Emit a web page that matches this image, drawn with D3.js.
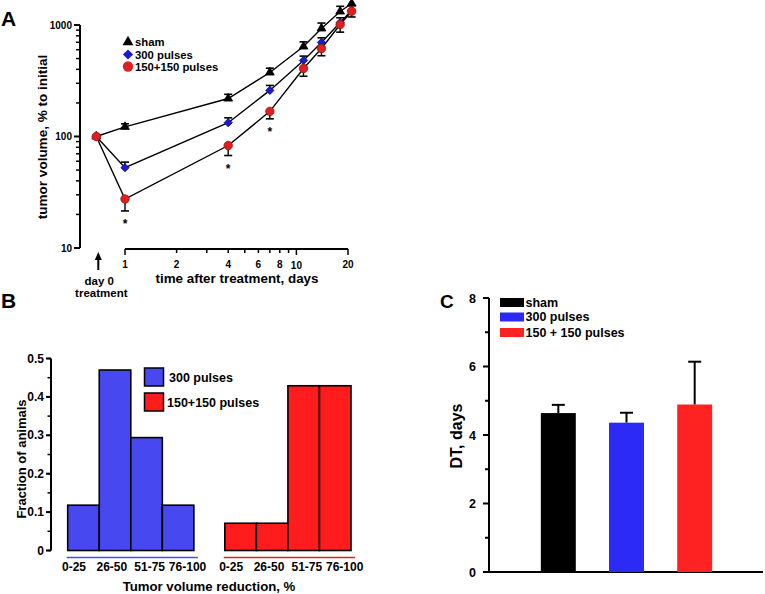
<!DOCTYPE html>
<html><head><meta charset="utf-8">
<script src="https://cdn.jsdelivr.net/npm/d3@7"></script>
<style>
body{margin:0;background:#fff;}
svg{display:block;font-family:"Liberation Sans",Arial,Helvetica,sans-serif;font-weight:bold;}
</style></head><body>
<svg id="chart" width="765" height="594"></svg>
<script>
// ---------- Panel A data ----------
// first position (0.68) stands for "day 0", drawn left of the log axis start
const daysA = [0.68, 1, 4, 7, 11, 14, 18, 21];
const shamA = [100, 122, 219, 375, 641, 931, 1321, 1560];
const shamErrA = [0, 8, 20, 35, 65, 110, 150, 170];
const p300A = [100, 52.5, 133, 259, 481, 697, 1051, 1350];
const p300ErrA = [0, 6.4, 14, 28, 45, 70, 110, 140];
const p150A = [100, 27.5, 83, 168, 407, 615, 1010, 1330];
const p150ErrA = [0, 6, 15.5, 24, 60, 85, 147, 150];
const signifDaysA = [1, 4, 7];
const seriesNamesA = ["sham", "300 pulses", "150+150 pulses"];
const xTickLabelsA = [1, 2, 4, 6, 8, 10, 20];
const yTickLabelsA = [10, 100, 1000];

// ---------- Panel B data ----------
const binsB = ["0-25", "26-50", "51-75", "76-100"];
const groupsB = ["300 pulses", "150+150 pulses"];
const frac300B = [0.118, 0.47, 0.294, 0.118];
const frac150B = [0.071, 0.071, 0.429, 0.429];
const yTicksB = [0, 0.1, 0.2, 0.3, 0.4, 0.5];

// ---------- Panel C data ----------
const groupsC = ["sham", "300 pulses", "150 + 150 pulses"];
const dtC = [4.64, 4.36, 4.89];
const dtErrC = [0.24, 0.29, 1.25];
const yTicksC = [0, 2, 4, 6, 8];

const svg = d3.select("#chart");

// ======================= PANEL A =======================
{
  const g = svg.append("g");
  const x = d3.scaleLog().domain([1, 20]).range([125, 348]);
  const y = d3.scaleLog().domain([10, 1000]).range([248, 25]);
  const axX = 80, axY = 249;

  // y axis
  const yMinor = [];
  [10, 100].forEach(d => { for (let k = 2; k <= 9; k++) yMinor.push(d * k); });
  const yAx = g.append("g").attr("transform", `translate(${axX},0)`);
  yAx.append("line").attr("x1", 0).attr("x2", 0).attr("y1", y(1000)).attr("y2", y(10))
    .attr("stroke", "#000").attr("stroke-width", 2);
  yAx.selectAll(".mn").data(yMinor).join("line")
    .attr("x1", 0).attr("x2", -4).attr("y1", d => y(d)).attr("y2", d => y(d))
    .attr("stroke", "#000").attr("stroke-width", 1.5);
  yAx.selectAll(".mj").data(yTickLabelsA).join("line")
    .attr("x1", 0).attr("x2", -6).attr("y1", d => y(d)).attr("y2", d => y(d))
    .attr("stroke", "#000").attr("stroke-width", 2);
  yAx.selectAll(".lb").data(yTickLabelsA).join("text")
    .attr("x", -8).attr("y", d => y(d) + 3.5).attr("text-anchor", "end")
    .attr("font-size", 10).text(d => d);

  // x axis
  const xAll = d3.range(1, 11).concat([20]);
  const xAx = g.append("g").attr("transform", `translate(0,${axY})`);
  xAx.append("line").attr("x1", x(1)).attr("x2", x(20)).attr("y1", 0).attr("y2", 0)
    .attr("stroke", "#000").attr("stroke-width", 2);
  xAx.selectAll(".t").data(xAll).join("line")
    .attr("x1", d => x(d)).attr("x2", d => x(d)).attr("y1", 0)
    .attr("y2", d => (d === 1 || d === 10 || d === 20) ? 6 : 4)
    .attr("stroke", "#000").attr("stroke-width", 1.5);
  xAx.selectAll(".lb").data(xTickLabelsA).join("text")
    .attr("x", d => x(d)).attr("y", d => d === 10 ? 20 : 19).attr("text-anchor", "middle")
    .attr("font-size", 10).text(d => d);

  g.append("text").attr("x", 237).attr("y", 283).attr("text-anchor", "middle")
    .attr("font-size", 13.4).text("time after treatment, days");
  g.append("text").attr("transform", "translate(47,137) rotate(-90)")
    .attr("text-anchor", "middle").attr("font-size", 13.5).text("tumor volume, % to initial");
  g.append("text").attr("x", 1).attr("y", 26).attr("font-size", 21).text("A");

  // day 0 arrow + label
  const ax0 = x(daysA[0]) + 2;
  g.append("line").attr("x1", ax0).attr("x2", ax0).attr("y1", 258).attr("y2", 270)
    .attr("stroke", "#000").attr("stroke-width", 2);
  g.append("path").attr("d", `M${ax0},252 L${ax0 - 3.5},260 L${ax0 + 3.5},260 Z`).attr("fill", "#000");
  g.append("text").attr("x", ax0 + 1).attr("y", 285).attr("text-anchor", "middle")
    .attr("font-size", 11.5).text("day 0");
  g.append("text").attr("x", ax0 + 3).attr("y", 297).attr("text-anchor", "middle")
    .attr("font-size", 11.5).text("treatment");

  const series = [
    {vals: shamA, err: shamErrA, dir: -1, shape: "tri", fill: "#000", stroke: "#000"},
    {vals: p300A, err: p300ErrA, dir: -1, shape: "dia", fill: "#1a1ad0", stroke: "#10108a"},
    {vals: p150A, err: p150ErrA, dir: 1, shape: "cir", fill: "#e02020", stroke: "#a01010"}
  ];
  const line = d3.line().x((d, i) => x(daysA[i])).y(d => y(d));
  series.forEach(s => {
    g.append("path").attr("d", line(s.vals)).attr("fill", "none")
      .attr("stroke", "#000").attr("stroke-width", 1.4);
  });
  // error bars
  series.forEach(s => {
    s.vals.forEach((v, i) => {
      if (!s.err[i]) return;
      const yv = y(v), ye = y(s.dir < 0 ? v + s.err[i] : v - s.err[i]);
      const xv = x(daysA[i]);
      g.append("line").attr("x1", xv).attr("x2", xv).attr("y1", yv).attr("y2", ye)
        .attr("stroke", "#000").attr("stroke-width", 1.4);
      g.append("line").attr("x1", xv - 4).attr("x2", xv + 4).attr("y1", ye).attr("y2", ye)
        .attr("stroke", "#000").attr("stroke-width", 1.6);
    });
  });
  const sym = {tri: d3.symbolTriangle, dia: d3.symbolSquare, cir: d3.symbolCircle};
  const size = {tri: 34, dia: 34, cir: 56};
  const rot = {tri: 0, dia: 45, cir: 0};
  series.forEach(s => {
    g.selectAll(null).data(s.vals).join("path")
      .attr("transform", (d, i) => `translate(${x(daysA[i])},${y(d)}) rotate(${rot[s.shape]})`)
      .attr("d", d3.symbol(sym[s.shape], size[s.shape]))
      .attr("fill", s.fill).attr("stroke", s.stroke).attr("stroke-width", 0.8);
  });
  // significance asterisks
  signifDaysA.forEach(dd => {
    const i = daysA.indexOf(dd);
    g.append("text").attr("x", x(dd)).attr("y", y(p150A[i] - p150ErrA[i]) + 17)
      .attr("text-anchor", "middle").attr("font-size", 12).text("*");
  });
  // legend
  const legY = [42, 54.5, 66.5];
  series.forEach((s, i) => {
    g.append("path").attr("transform", `translate(128,${legY[i]}) rotate(${rot[s.shape]})`)
      .attr("d", d3.symbol(sym[s.shape], size[s.shape] * 1.5))
      .attr("fill", s.fill).attr("stroke", "none");
    g.append("text").attr("x", 135).attr("y", legY[i] + 4).attr("font-size", 11.3)
      .text(seriesNamesA[i]);
  });
}

// ======================= PANEL B =======================
{
  const g = svg.append("g");
  const y = d3.scaleLinear().domain([0, 0.5]).range([550.5, 358.5]);
  const gx = d3.scaleBand().domain(groupsB).range([67.7, 351]).paddingInner(0.197);
  const bx = d3.scaleBand().domain(binsB).range([0, gx.bandwidth()]).padding(0);
  // category labels are spread a little wider than the bars
  const lx = d3.scaleBand().domain(binsB).range([-12.6, gx.bandwidth() + 12.6]).padding(0);
  const colB = ["#4848f0", "#ff1c1c"];
  const lineCol = ["#4a4af0", "#d02828"];
  const axX = 51;
  const yMinor = d3.range(0, 0.501, 0.05);
  g.append("line").attr("x1", axX).attr("x2", axX).attr("y1", y(0.5)).attr("y2", y(0))
    .attr("stroke", "#000").attr("stroke-width", 2);
  g.selectAll(".mn").data(yMinor).join("line")
    .attr("x1", axX).attr("x2", axX - 3.5).attr("y1", d => y(d)).attr("y2", d => y(d))
    .attr("stroke", "#000").attr("stroke-width", 1.5);
  g.selectAll(".mj").data(yTicksB).join("line")
    .attr("x1", axX).attr("x2", axX - 5).attr("y1", d => y(d)).attr("y2", d => y(d))
    .attr("stroke", "#000").attr("stroke-width", 2);
  g.selectAll(".lb").data(yTicksB).join("text")
    .attr("x", axX - 7).attr("y", d => y(d) + 4).attr("text-anchor", "end")
    .attr("font-size", 12).text(d => d === 0 ? "0" : d3.format(".1f")(d));

  [frac300B, frac150B].forEach((vals, gi) => {
    const grp = groupsB[gi];
    g.selectAll(null).data(vals).join("rect")
      .attr("x", (d, i) => gx(grp) + bx(binsB[i]))
      .attr("y", d => y(d)).attr("width", bx.bandwidth())
      .attr("height", d => y(0) - y(d))
      .attr("fill", colB[gi]).attr("stroke", "#000").attr("stroke-width", 1.6);
    g.append("line").attr("x1", gx(grp) - 1).attr("x2", gx(grp) + gx.bandwidth() + 4)
      .attr("y1", 557.5).attr("y2", 557.5).attr("stroke", lineCol[gi]).attr("stroke-width", 1.6);
    g.selectAll(null).data(binsB).join("text")
      .attr("x", d => gx(grp) + lx(d) + lx.bandwidth() / 2).attr("y", 570.5)
      .attr("text-anchor", "middle").attr("font-size", 12).text(d => d);
  });
  g.append("text").attr("x", 209).attr("y", 591).attr("text-anchor", "middle")
    .attr("font-size", 13.2).text("Tumor volume reduction, %");
  g.append("text").attr("transform", "translate(26,459) rotate(-90)")
    .attr("text-anchor", "middle").attr("font-size", 13).text("Fraction of animals");
  g.append("text").attr("x", 1).attr("y", 308).attr("font-size", 21).text("B");
  // legend
  const legTop = [368, 393];
  groupsB.forEach((nm, i) => {
    g.append("rect").attr("x", 144.5).attr("y", legTop[i]).attr("width", 19).attr("height", 18)
      .attr("fill", colB[i]).attr("stroke", "#000").attr("stroke-width", 1.5);
    g.append("text").attr("x", i === 0 ? 169 : 167).attr("y", legTop[i] + 14)
      .attr("font-size", 12.5).text(nm);
  });
}

// ======================= PANEL C =======================
{
  const g = svg.append("g");
  const y = d3.scaleLinear().domain([0, 8]).range([572, 298]);
  const x = d3.scaleBand().domain(groupsC).range([489, 764]).paddingInner(0.487).paddingOuter(0.76);
  const colC = ["#000000", "#2b2bf5", "#ff2222"];
  const axX = 489;
  g.append("line").attr("x1", axX).attr("x2", axX).attr("y1", y(8)).attr("y2", y(0))
    .attr("stroke", "#000").attr("stroke-width", 2);
  g.append("line").attr("x1", axX).attr("x2", 763).attr("y1", y(0)).attr("y2", y(0))
    .attr("stroke", "#000").attr("stroke-width", 2);
  g.selectAll(".mn").data(d3.range(0, 9)).join("line")
    .attr("x1", axX).attr("x2", d => d % 2 ? axX - 4 : axX - 6)
    .attr("y1", d => y(d)).attr("y2", d => y(d))
    .attr("stroke", "#000").attr("stroke-width", 2);
  g.selectAll(".lb").data(yTicksC).join("text")
    .attr("x", axX - 13).attr("y", d => y(d) + 4.5).attr("text-anchor", "end")
    .attr("font-size", 12.5).text(d => d);
  // error bars
  g.selectAll(null).data(dtC).join("line")
    .attr("x1", (d, i) => x(groupsC[i]) + x.bandwidth() / 2)
    .attr("x2", (d, i) => x(groupsC[i]) + x.bandwidth() / 2)
    .attr("y1", d => y(d)).attr("y2", (d, i) => y(d + dtErrC[i]))
    .attr("stroke", "#000").attr("stroke-width", 2);
  g.selectAll(null).data(dtC).join("line")
    .attr("x1", (d, i) => x(groupsC[i]) + x.bandwidth() / 2 - 6.5)
    .attr("x2", (d, i) => x(groupsC[i]) + x.bandwidth() / 2 + 6.5)
    .attr("y1", (d, i) => y(d + dtErrC[i])).attr("y2", (d, i) => y(d + dtErrC[i]))
    .attr("stroke", "#000").attr("stroke-width", 2);
  g.selectAll(null).data(dtC).join("rect")
    .attr("x", (d, i) => x(groupsC[i])).attr("y", d => y(d))
    .attr("width", x.bandwidth()).attr("height", d => y(0) - y(d))
    .attr("fill", (d, i) => colC[i]);
  g.append("text").attr("transform", "translate(462,436) rotate(-90)")
    .attr("text-anchor", "middle").attr("font-size", 16).text("DT, days");
  g.append("text").attr("x", 440).attr("y", 308).attr("font-size", 19).text("C");
  const legTop = [298, 312.5, 328];
  groupsC.forEach((nm, i) => {
    g.append("rect").attr("x", 500).attr("y", legTop[i]).attr("width", 24).attr("height", 9)
      .attr("fill", colC[i]);
    g.append("text").attr("x", 525.5).attr("y", legTop[i] + 8.5).attr("font-size", 12.5).text(nm);
  });
}
</script>
</body></html>
